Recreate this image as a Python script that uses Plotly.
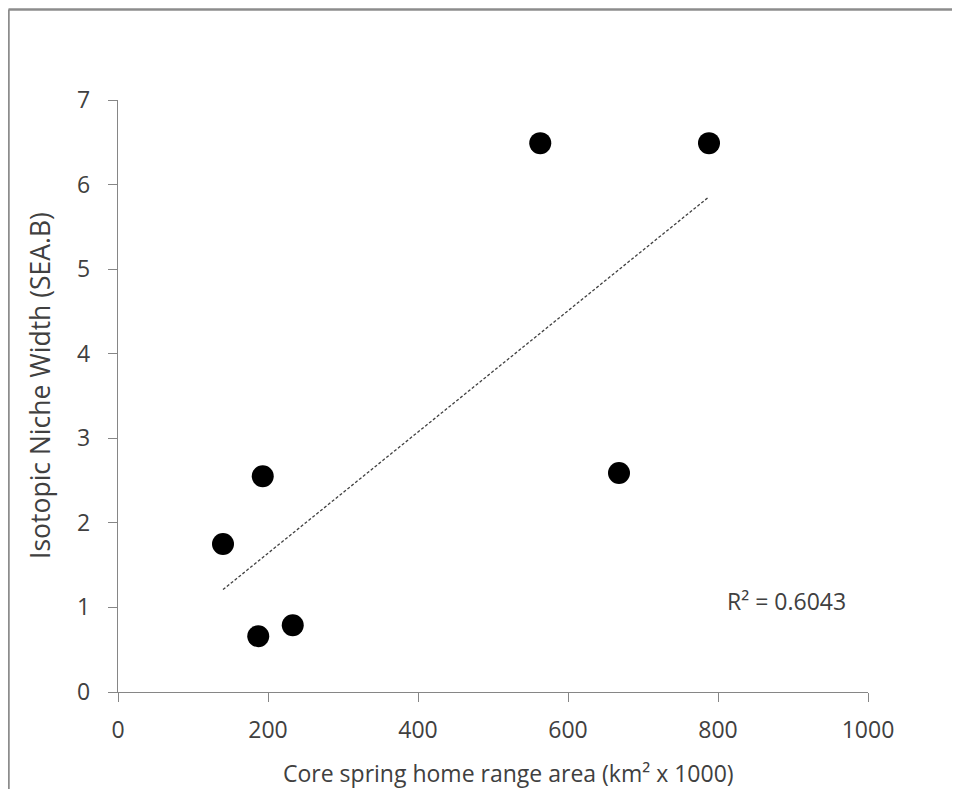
import numpy as np
import plotly.graph_objects as go

# Data
home_range = [140, 187, 193, 233, 563, 668, 788]
niche_width = [1.75, 0.66, 2.55, 0.79, 6.49, 2.59, 6.49]
x_ticks = [0, 200, 400, 600, 800, 1000]
y_ticks = [0, 1, 2, 3, 4, 5, 6, 7]
r2_label = "R² = 0.6043"
x_title = "Core spring home range area (km² x 1000)"
y_title = "Isotopic Niche Width (SEA.B)"

# linear trendline through the data
slope, intercept = np.polyfit(home_range, niche_width, 1)
tx = [min(home_range), max(home_range)]
ty = [slope * v + intercept for v in tx]

FONT = "Open Sans"
TXT = "#404040"
AX = "#868686"

fig = go.Figure()
fig.add_trace(go.Scatter(x=tx, y=ty, mode="lines",
                         line=dict(color="#404040", width=1.3, dash="3px,2px"),
                         hoverinfo="skip", showlegend=False))
fig.add_trace(go.Scatter(x=home_range, y=niche_width, mode="markers",
                         marker=dict(color="black", size=22),
                         showlegend=False))

fig.update_layout(
    width=952, height=781,
    margin=dict(l=110, r=92, t=92, b=97),
    paper_bgcolor="white", plot_bgcolor="white",
    font=dict(family=FONT, color=TXT),
    xaxis=dict(range=[0, 1000], tickvals=x_ticks, showgrid=False, zeroline=False,
               showline=True, linecolor=AX, linewidth=1.3,
               ticks="outside", ticklen=9, tickcolor=AX, tickwidth=1.3,
               tickfont=dict(size=23, color=TXT, family=FONT),
               ticklabelstandoff=8),
    yaxis=dict(range=[0, 7], tickvals=y_ticks, showgrid=False, zeroline=False,
               showline=True, linecolor=AX, linewidth=1.3,
               ticks="outside", ticklen=9, tickcolor=AX, tickwidth=1.3,
               tickfont=dict(size=23, color=TXT, family=FONT),
               ticklabelstandoff=13),
    annotations=[
        dict(text=r2_label, x=891, y=1.076, xref="x", yref="y",
             xanchor="center", yanchor="middle",
             showarrow=False, font=dict(size=23, color=TXT, family=FONT)),
        dict(text=x_title, x=0.521, y=-0.1368, xref="paper", yref="paper",
             xanchor="center", yanchor="middle", showarrow=False,
             font=dict(size=23, color=TXT, family=FONT)),
        dict(text=y_title, x=-0.104, y=0.517, xref="paper", yref="paper",
             xanchor="center", yanchor="middle", textangle=-90, showarrow=False,
             font=dict(size=26.5, color=TXT, family=FONT)),
    ],
    shapes=[
        dict(type="line", xref="paper", yref="paper", x0=-0.146, x1=-0.146,
             y0=-0.3, y1=1.153, line=dict(color="#8c8c8c", width=2.5)),
        dict(type="line", xref="paper", yref="paper", x0=-0.146, x1=1.3,
             y0=1.153, y1=1.153, line=dict(color="#8c8c8c", width=2.5)),
    ],
)

fig.write_html("out.html")
